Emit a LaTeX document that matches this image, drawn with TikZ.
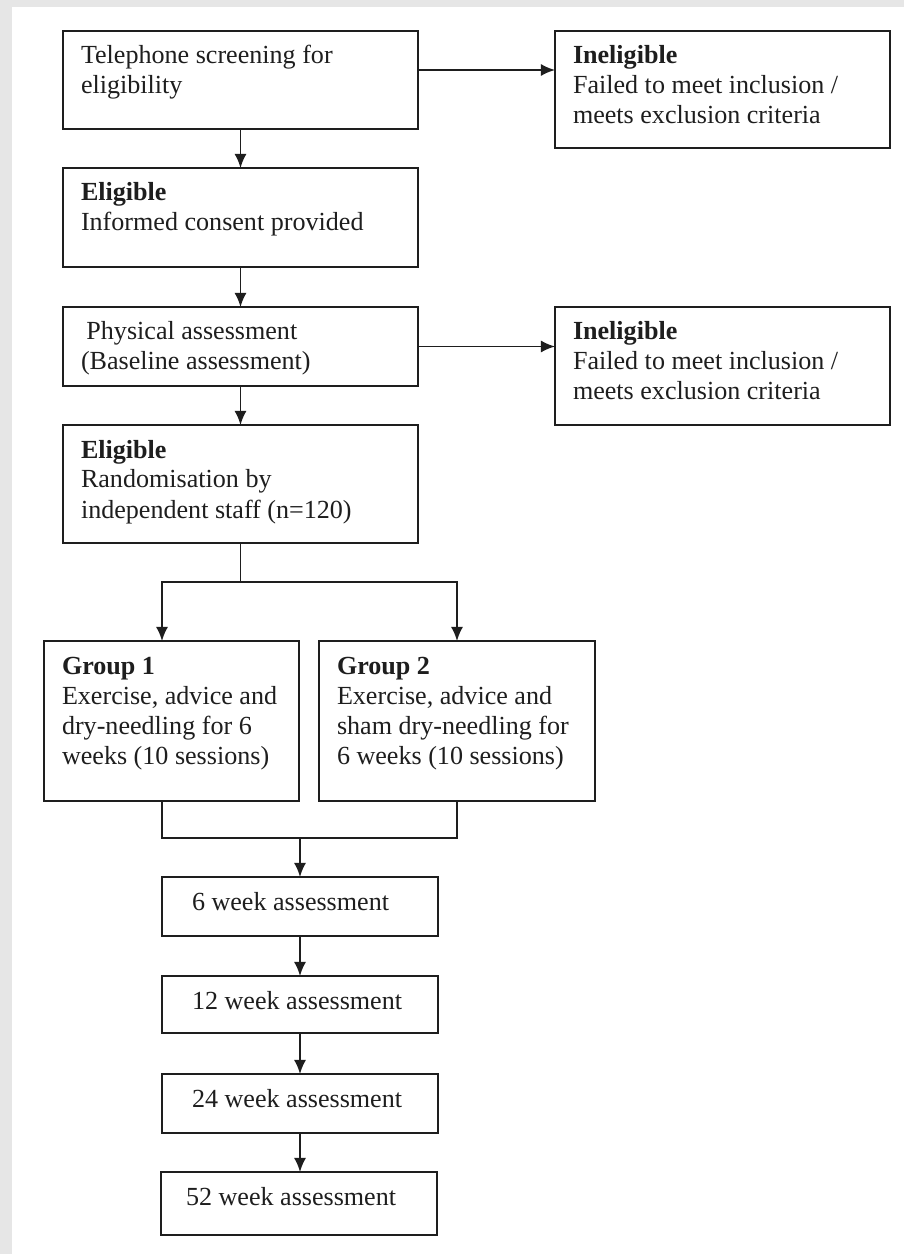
\documentclass[tikz,border=0pt]{standalone}
\usepackage{fontspec}
\setmainfont{Liberation Serif}
\usetikzlibrary{arrows.meta}

\newlength{\px}
\setlength{\px}{0.46pt}
\newcommand{\boxtext}[3]{\parbox[t][#2\px][t]{#1\px}{\raggedright\strut #3}}
\definecolor{bggray}{HTML}{E6E6E6}
\definecolor{ink}{HTML}{1E1E1E}

\begin{document}
\begin{tikzpicture}[x=\px, y=-\px, line width=0.9pt, color=ink,
    arr/.style={-{Latex[length=6.5pt,width=5.6pt]}},
    twoarr/.style={{Latex[length=6.5pt,width=5.6pt]}-{Latex[length=6.5pt,width=5.6pt]}}]

      \useasboundingbox (0,0) rectangle (904,1254);
      \fill[bggray] (0,0) rectangle (904,1254);
      \fill[white] (12,7) rectangle (904,1254);

      \begin{scope}[every node/.style={draw, anchor=north west, inner xsep=18\px, inner ysep=12\px,
          outer sep=0pt, font=\fontsize{12}{13.8}\selectfont}]
        \node (1)  at (63,31)   {\boxtext{319}{74}{Telephone screening for\\eligibility}};
        \node (2)  at (555,31)  {\boxtext{299}{93}{\textbf{Ineligible}\\Failed to meet inclusion /\\meets exclusion criteria}};
        \node (3)  at (63,168)  {\boxtext{319}{75}{\textbf{Eligible}\\Informed consent provided}};
        \node (4)  at (63,307)  {\boxtext{319}{55}{\hspace*{2.5pt}Physical assessment\\(Baseline assessment)}};
        \node (5)  at (555,307) {\boxtext{299}{94}{\textbf{Ineligible}\\Failed to meet inclusion /\\meets exclusion criteria}};
        \node (6)  at (63,425)  {\boxtext{319}{94}{\textbf{Eligible}\\Randomisation by\\independent staff (n=120)}};
        \node (7)  at (44,641)  {\boxtext{219}{136}{\textbf{Group 1}\\Exercise, advice and\\dry-needling for 6\\weeks (10 sessions)}};
        \node (8)  at (319,641) {\boxtext{240}{136}{\textbf{Group 2}\\Exercise, advice and\\sham dry-needling for\\6 weeks (10 sessions)}};
        \node[inner xsep=30\px] (9)  at (162,877)  {\boxtext{216}{35}{6 week assessment}};
        \node[inner xsep=30\px] (10) at (162,976)  {\boxtext{216}{33}{12 week assessment}};
        \node[inner xsep=30\px] (11) at (162,1074) {\boxtext{216}{35}{24 week assessment}};
        \node[inner xsep=25\px] (12) at (161,1172) {\boxtext{226}{39}{52 week assessment}};
      \end{scope}

      \coordinate (a) at (162,582);
      \coordinate (b) at (162,838);

      \draw[arr] ([yshift=10\px]1.east) -- ([yshift=10\px]1.east -| 2.west);
      \draw[arr] (1) -- (3);
      \draw[arr] (3) -- (4);
      \draw[arr] (4.east) -- (4.east -| 5.west);
      \draw[arr] (4) -- (6);

      \draw (6.south) -- (6.south |- a);
      \draw[twoarr] (a |- 7.north) -- (a) -| (8.north);

      \draw (b |- 7.south) -- (b) -| (8.south);
      \draw[arr] (9.north |- b) -- (9);
      \draw[arr] (9) -- (10);
      \draw[arr] (10) -- (11);
      \draw[arr] (11.south) -- (11.south |- 12.north);

\end{tikzpicture}
\end{document}
